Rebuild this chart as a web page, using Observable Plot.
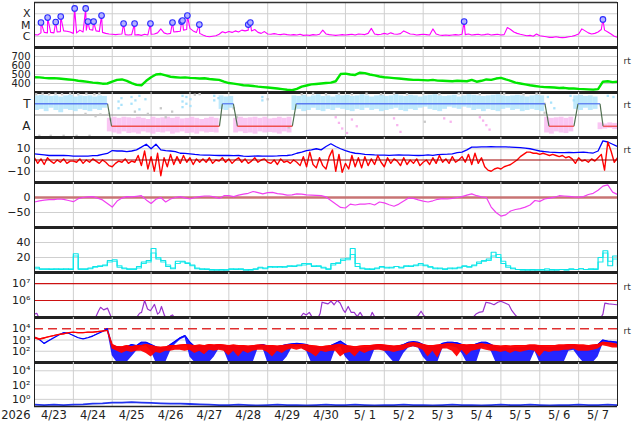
<!DOCTYPE html>
<html><head><meta charset="utf-8">
<script src="https://cdn.jsdelivr.net/npm/d3@7"></script>
<script src="https://cdn.jsdelivr.net/npm/@observablehq/plot@0.6"></script>
<style>
body{margin:0;background:#fff;}
#chart{width:634px;height:424px;overflow:hidden;background:#fff;}
#chart svg{display:block;}
</style></head><body><div id="chart"></div>
<script>
// ---------- DATA ----------
// X-ray background flux, C-class units (1e-6 W/m2), every 2 h from 2026-04-23 00 UT
const xrayBase = [1.4,1.3,2.0,2.2,2.0, 2.2,2.0,2.4,2.6,3.0, 2.8,2.4,1.8,2.0,3.5, 2.4,3.5,4.0,3.5,3.0,
 2.6,2.2,1.8,1.6,1.5, 1.4,1.5,1.6,1.4,1.3, 1.4,1.3,1.4,1.2,1.5, 1.3,1.5,1.6,2.0,4.5,
 2.0,1.6,1.8,2.4,2.6, 2.8,3.5,4.0,5.0,3.0, 2.2,1.8,1.3,1.0,0.9, 1.0,1.1,1.5,2.5,2.0,
 2.6,2.2,3.0,2.4,3.5, 3.0,3.5,3.0,4.0,2.2, 1.8,2.6,1.6,1.5,1.7, 1.5,1.4,1.6,1.4,1.3,
 1.4,1.3,1.5,1.2,1.3, 1.2,1.4,1.3,1.5,3.5, 1.6,1.4,1.3,1.2,1.3, 1.4,1.3,1.4,1.5,1.3,
 1.6,1.5,1.4,1.8,5.0, 1.6,1.4,1.5,1.8,1.5, 2.0,1.6,1.5,1.7,3.0, 2.2,1.6,1.5,1.3,1.4,
 1.5,1.4,1.3,4.5,1.6, 1.3,1.2,1.3,1.2,1.3, 1.4,1.3,1.5,1.4,1.6, 1.3,1.4,1.5,1.3,1.4,
 1.6,1.3,1.4,1.5,1.3, 1.4,6.0,4.0,2.4,1.8, 1.5,1.3,1.1,1.2,1.0, 1.6,1.1,1.0,0.9,0.8,
 0.8,0.9,0.8,0.75,0.8, 0.9,1.0,1.2,1.6,4.5, 3.0,2.0,1.6,1.8,2.4, 4.0,3.5,2.4,1.6,1.0,0.8];
// flare peaks: hour after start, peak flux (C units)
const flareHours = [4,8.1,13.1,16.2,24.8,31.6,33,36.5,41.4,55,61.8,71.6,85.2,90.8,91.4,94.4,101.8,132,133.3,265.3,351];
const flareFlux  = [16.7,46,18.5,57,295,295,20,20,69,13.6,13.6,13.6,16.7,20,25,69,11,11,16.7,20,31];
const xrayTicks = [1e-6,1e-5,1e-4], xrayLabels = ["C","M","X"];

// solar wind speed km/s, every 3 h
const speed = [470,468,462,458,460,455,450,445, 440,430,425,418,410,405,398,400, 420,440,445,430,405,385,380,
 430,470,500,505,490,475,470,465, 468,462,460,455,458,450,445,440, 420,405,398,390,380,378,372,365,
 360,355,350,345,338,330,325,340, 365,378,390,395,400,405,410,425, 505,510,500,495,520,515,500,490,
 478,470,465,460,455,450,445,440, 440,438,435,440,432,430,428,425, 430,428,425,440,420,430,445,440,
 455,462,445,430,410,400,390,380, 372,365,360,358,355,350,352,345, 345,340,338,335,332,338,420,425, 415,420];
const speedTicks = [400,500,600,700];

// IMF sector polarity (T = +1, A = -1): change hours
const polH = [0,45.1,47.6,114.2,116,122.8,125.3,159.2,161.6,315.2,317.7,333.1,335.6,349.2,351.1,360];
const polV = [1,1,-1,-1,1,1,-1,-1,1,1,-1,-1,1,1,-1,-1];
// IMF angle scatter band per 3 h bin (upper / lower)
const bandHi = [1.7,1.75,1.7,1.65,1.7,1.6,1.7,1.75,1.6,1.7,1.65,1.7,1.6,1.7,1.65,
 -0.3,
 -0.2,-0.3,-0.2,-0.25,-0.3,-0.2,-0.3,-0.4,-0.2,-0.3,-0.25,-0.2,-0.3,-0.2,-0.35,-0.3,-0.2,-0.3,-0.4,-0.3,-0.2,-0.3,
 1.7,1.6,1.65,
 -0.3,-0.2,-0.3,-0.25,-0.2,-0.3,-0.2,-0.35,-0.3,-0.2,-0.3,-0.2,
 1.7,1.65,1.75,1.6,1.7,1.8,1.65,1.7,1.6,1.75, 1.7,1.75,1.65,1.7,1.8,1.7,1.6,1.7,1.75,1.65,
 1.7,1.8,1.7,1.65,1.75,1.7,1.6,1.7,1.75,1.8, 1.7,1.65,1.7,1.75,1.6,1.7,1.8,1.75,1.7,1.65,
 1.7,1.75,1.8,1.7,1.65,1.7,1.75,1.7,1.6,1.7, 1.75,1.7,
 -0.2,-0.3,-0.25,-0.2,-0.3,-0.2,
 1.7,1.75,1.65,1.7,1.6,
 -0.7,-0.8,-0.7,-0.75];
const bandLo = [0.4,0.5,0.3,0.6,0.4,0.2,0.5,0.4,0.3,0.5,0.4,0.3,0.5,0.4,0.6,
 -1.5,
 -1.6,-1.7,-1.5,-1.65,-1.6,-1.7,-1.5,-1.6,-1.7,-1.55,-1.6,-1.5,-1.7,-1.6,-1.5,-1.65,-1.6,-1.7,-1.5,-1.6,-1.55,-1.6,
 0.5,0.4,0.6,
 -1.6,-1.5,-1.65,-1.6,-1.7,-1.5,-1.6,-1.55,-1.6,-1.7,-1.5,-1.6,
 0.4,0.5,0.3,0.4,0.6,0.4,0.3,0.5,0.4,0.6, 0.5,0.4,0.3,0.5,0.4,0.6,0.4,0.5,0.3,0.4,
 0.5,0.6,0.4,0.3,0.5,0.4,0.6,0.7,0.5,0.4, 0.3,0.5,0.7,0.6,0.5,0.7,0.6,0.4,0.5,0.3,
 0.5,0.4,0.3,0.5,0.6,0.4,0.5,0.3,0.4,0.5, 0.4,0.3,
 -1.6,-1.7,-1.5,-1.6,-1.65,-1.5,
 0.5,0.4,0.6,0.4,0.5,
 -1.3,-1.25,-1.2,-1.3];
// scattered angle samples: hour, value, kind (t = toward, a = away, g = other)
const dotH = [51.9,51.9,53.7,53.7,59.9,59.9,62.3,64.8,64.8,68.5,91.4,91.4,91.4,93.8,93.8,96.3,96.3,111,111,113.6,140.7,140.7,317,319,321,331,333,354,357.5,
 186,188,190,193,196,199,222,224,226,253,257,275,277,279,281,
 1,5,9,13,17,22,27,32,37,40,31.5,37.7,40.7,3,10,18,26,34,46,47,62,70,78,81,85,99,102,123,125,144,157,
 165,172,180,188,196,205,214,222,230,240,241,250,262,275,290,302,310,315,315,315];
const dotV = [1.2,0.6,1.5,0.9,1.6,1.0,1.3,1.7,0.5,1.4,1.7,1.2,0.7,1.6,1.0,1.4,0.8,1.7,1.3,1.5,1.6,1.3,1.6,1.1,0.6,1.7,1.3,1.7,1.6,
 -0.2,-0.7,-1.2,-1.6,-0.4,-1.0,-0.3,-0.9,-1.5,-0.3,-0.6,-0.2,-0.5,-0.9,-1.3,
 1.85,1.9,1.85,1.9,1.85,1.9,1.85,1.9,1.85,1.9,0.1,-0.1,0.05,-1.85,-1.85,-1.85,-1.85,-1.85,0.1,-0.4,0.3,0.1,0.6,-0.2,0.3,1.8,1.85,0.6,-0.2,1.4,-1.1,
 1.85,1.9,1.85,1.9,1.85,1.9,1.85,1.9,1.85,1.9,-0.6,1.85,1.9,1.85,1.9,1.85,1.9,1.0,0.2,-0.8];
const dotK = [].concat(Array(29).fill("t"), Array(15).fill("a"), Array(50).fill("g"));

// IMF Bt (every 3 h) and Bz (every 2 h), nT
const bt = [5.5,5,4.5,4,4,4.2,4,3.8, 3.5,3.5,3.4,3.5,3.8,4,5,5.8, 8.4,8,8,7.5,8,9,11.4, 14,10,14,9,8.4,8,7.5,6,
 5.8,5.5,5,4.6,4.4,4.4,4.2,4, 4,4,3.8,4,3.5,3.3,3.5,3.6, 3.5,3.4,3.5,3.6,3.8,4,4.5,6, 7,8.4,9,10,9,12,14.4,12,
 10,8.4,7,6,5.6,5,4.8,4.5, 4.4,4.4,4.2,4.4,4.5,4.3,4.4,4.2, 4,4.2,4.5,4.2,4.8,5,5.2,5.5, 6.5,7,9,11.4,11.5,11.7,11.7,11.8,
 11.7,11.6,11.7,11.5,11.3,11,10.5,10, 9,8,7.5,7,6.8,6.5,6.5,6.8, 6.5,6.8,7,6.5,6.2,8,17,16, 14,12];
const bz = [2,-3,1,-4,2,-1,-3,0,-2,1,-3,-1, -1,-2,1,-3,0,-2,1,-1,-3,0,-2, -5,-6,-3,-1,-2,1,-3,-1,-2,
 4,-5,8,-8,3,-10,6,-14,2,-6,5,-4, 3,-3,4,-2,2,-4,1,-2, 1,-2,2,-3,0,-1,2,-2,1,-3,0,2,-2,1,-3,-1,2,-2,0,
 1,-2,-3,0,-4,1,-2,-1,-3,0, -2,-5,3,-6,7,-4,-7,2,-5,-8,3, 9,-10,5,-11,-3,-8,4,-6,2,-7, 3,-5,1,-4,4,-2,-6,2,-3,1,
 -1,-5,2,-4,0,-3,1,-5,-2,0,-4, 2,-3,4,-2,1,-3,3,-2,0, 3,-2,5,-4,6,-3,2,-6, -9,-10,-8,-7,-8,-6,-5,-4,-2,0,3,5,
 7,7,6,6,5,6,5,4,5,4,3,4,2,3, 1,-3,2,-1,0,-2,1,-1,2, 5,-9,16,8,-2,2];
const imfTicks = [10,0,-10];

// Dst nT, every 3 h
const dst = [-15,-11,-9,-7,-7,-5,-6,-10,-14,-4, 0,2,3,-2,-8,-20,-32,-12,-2,3, 2,4,6,-8,-20,-6,0,-15,-5,0,
 3,-1,-5,0,3,5,5,2,-3,6, 6,3,8,11,14,20,16,12,16,17, 13,11,8,9,12,11,9,8,7,6,
 2,-10,-22,-33,-35,-22,-25,-22,-22,-20, -25,-15,-18,-24,-29,-22,-12,-2,-3,-8, -12,-15,-11,-6,-4,-5,-3,0,3,8,
 12,6,2,0,-32,-50,-62,-58,-45,-40, -37,-32,-25,-10,-13,-5,-2,1,6,5, 4,2,1,3,10,14,24,38,42,18, 10];
const dstTicks = [0,-50];

// two cyan index series, every 3 h
const cyanA = [7,5,5,4,5,4,5,4,25,5, 5,6,8,8,10,16,17,7,6,5, 5,8,14,16,32,18,16,8,6,15, 15,12,10,5,5,4,4,3,4,3,
 5,4,5,3,4,5,7,6,8,7, 8,7,9,8,10,12,11,8,9,6, 5,12,13,18,19,32,8,5,5,4, 6,8,6,7,8,7,9,8,10,12,
 9,7,6,5,5,6,5,7,9,7, 10,14,15,18,27,20,12,7,5,4, 4,3,4,3,4,3,4,3,4,4, 5,4,5,4,5,4,20,29,9,22, 8];
const cyanB = [5,4,4,5,4,5,4,5,22,4, 4,5,7,9,9,14,15,9,5,4, 4,6,12,14,26,20,14,10,5,12, 14,13,9,6,4,5,3,4,3,4,
 4,5,4,4,3,4,6,5,7,8, 7,8,8,9,9,10,12,9,8,7, 4,10,12,16,17,24,12,6,4,5, 5,7,7,6,8,6,8,9,9,10,
 10,8,5,6,4,5,6,6,8,8, 9,12,16,16,22,24,15,9,6,4, 3,4,3,4,3,5,3,4,4,3, 4,4,5,4,4,5,14,26,15,18, 10];
const cyanTicks = [20,40];

// proton flux (log10), hour samples, null = gap
const protonH = [0,1.4,2.6,null, 37.7,39.6,40.8,42.7,45.1,47,47.6,null,
 63,64.9,66.1,68,69.8,71.6,74.1,76,77.2,78.4,80.3,81.5,null, 84.1,85.2,86.4,null,
 164.1,166,167.8,169.7,171.6,null,
 175.2,176.4,177.6,179.4,181.3,183.1,185,186.9,188.7,190.6,191.8,193.7,195.6,197.4,199.3,201.1,203,null,
 207.3,208.5,210.3,null, 234.4,236.8,238.7,240.5,242.4,null, 252.2,254.1,255.9,null,
 270.7,272.6,274.4,276.9,278.8,281.2,283.7,286.1,288,290.5,292.9,294.8,297.3,298.5,null,
 349.8,351,352.2,354.6,357.1,359.6];
const protonLog = [5.2,5.25,4.9,null, 4.9,5.4,5.6,5.45,5.55,5.1,4.9,null,
 4.9,5.25,5.3,6.0,5.5,5.4,5.77,5.2,5.3,5.65,5.1,4.9,null, 5.1,5.15,4.9,null,
 4.9,5.25,5.15,5.3,4.9,null,
 4.9,5.25,5.9,5.85,5.8,5.96,5.75,6.0,5.85,5.45,5.3,5.65,5.3,5.3,5.05,5.3,5.0,null,
 4.9,5.3,4.9,null, 4.9,5.1,5.37,5.1,4.9,null, 4.95,5.05,4.9,null,
 4.9,5.2,5.3,5.35,5.9,5.85,5.75,5.9,5.96,5.85,5.75,5.4,5.1,4.9,null,
 4.9,5.2,5.85,5.8,5.78,5.75];
const protonTicks = [1e6,1e7];

// electron fluxes (log10), every 3 h: upper / lower envelope
const eBlueHi = [3.25,3.05,2.7,2.95,3.2,3.45,3.65,3.6,3.4,3.2, 3.1,3.2,3.35,3.55,3.75,4.0,2.4,2.4,2.3,2.4,
 2.6,2.5,2.8,2.8,2.6,2.4,2.2,2.3,2.6,2.9, 3.2,3.4,2.8,2.4,2.4,2.45,2.5,2.5,2.55,2.5,
 2.45,2.4,2.35,2.4,2.35,2.4,2.5,2.6,2.45,2.4, 2.4,2.5,2.6,2.65,2.7,2.65,2.6,2.4,2.3,2.3,
 2.35,2.5,2.7,2.9,2.6,2.3,2.25,2.25,2.3,2.35, 2.5,2.55,2.5,2.45,2.4,2.45,2.6,2.8,2.85,2.8,
 2.6,2.4,2.35,2.45,2.7,2.8,2.8,2.75,2.6,2.45, 2.5,2.65,2.8,2.8,2.6,2.35,2.3,2.3,2.25,2.3,
 2.3,2.35,2.45,2.5,2.4,2.35,2.3,2.35,2.4,2.45, 2.5,2.5,2.45,2.4,2.4,2.45,2.6,3.0,2.9,2.85, 2.8];
const eBlueLo = [3.2,3.0,2.6,2.9,3.15,3.4,3.6,3.55,3.35,3.15, 3.05,3.15,3.3,3.5,3.7,3.9,1.6,0.5,0.5,0.5,
 1.5,2.0,2.4,2.5,2.0,0.5,0.5,0.5,2.0,2.6, 3.0,3.2,1.5,0.5,0.5,0.5,0.5,1.5,2.2,2.1,
 0.5,0.5,0.5,0.5,0.5,0.8,2.2,2.3,0.5,0.5, 0.5,0.5,1.5,2.3,2.4,2.3,2.0,0.5,0.5,0.5,
 0.5,1.0,2.2,2.4,1.5,0.5,0.5,0.5,0.5,0.8, 2.1,2.2,2.0,1.5,0.5,0.5,1.8,2.3,2.4,2.3,
 1.5,0.5,0.5,0.8,2.2,2.4,2.4,2.3,1.8,0.5, 0.5,1.0,2.3,2.4,2.0,0.5,0.5,0.5,0.5,0.5,
 0.5,0.5,1.0,2.0,0.5,0.5,0.5,0.5,0.5,0.8, 2.0,2.1,1.5,0.5,0.5,0.5,1.5,2.6,2.6,2.5, 2.4];
const eRedHi = [3.25,3.1,3.2,3.3,3.4,3.5,3.55,3.65,3.7,3.65, 3.65,3.7,3.7,3.75,3.8,3.85,2.6,2.4,2.4,2.5,
 2.4,2.5,2.5,2.6,2.5,2.4,2.35,2.4,2.5,2.5, 2.55,2.6,2.55,2.5,2.55,2.5,2.6,2.55,2.6,2.55,
 2.5,2.55,2.5,2.5,2.45,2.5,2.55,2.55,2.5,2.5, 2.45,2.5,2.55,2.6,2.55,2.6,2.55,2.5,2.45,2.4,
 2.45,2.5,2.55,2.6,2.5,2.45,2.4,2.45,2.5,2.5, 2.55,2.6,2.55,2.5,2.45,2.5,2.55,2.7,2.75,2.7,
 2.6,2.5,2.5,2.55,2.6,2.65,2.65,2.6,2.6,2.55, 2.6,2.6,2.65,2.6,2.55,2.5,2.45,2.5,2.45,2.5,
 2.5,2.5,2.55,2.55,2.5,2.5,2.5,2.5,2.55,2.55, 2.6,2.6,2.55,2.55,2.5,2.55,2.6,2.8,2.75,2.7, 2.6];
const eRedLo = [3.1,2.95,3.05,3.2,3.3,3.4,3.45,3.55,3.6,3.55, 3.55,3.6,3.6,3.65,3.7,3.75,2.2,2.0,1.8,2.0,
 1.9,2.0,2.0,1.8,1.5,1.9,1.8,2.0,2.0,2.1, 2.1,2.0,2.1,1.8,2.0,1.7,2.1,2.0,2.1,2.0,
 1.6,2.0,1.5,2.0,1.8,2.0,2.1,2.1,1.9,1.5, 2.0,1.8,2.1,2.2,2.1,2.2,2.0,1.8,1.5,2.0,
 1.9,2.0,2.0,1.5,1.8,1.9,1.5,2.0,1.8,2.0, 2.1,2.1,2.0,2.0,1.9,2.0,2.1,2.3,2.4,2.3,
 2.1,1.5,2.0,1.4,2.2,2.2,2.0,1.5,2.1,1.6, 2.0,2.1,2.2,2.1,2.0,2.0,1.9,2.0,1.8,2.0,
 1.9,2.0,2.1,2.0,1.5,2.0,1.9,2.0,2.0,2.1, 2.1,2.2,2.0,2.0,2.0,2.1,2.2,2.5,2.4,2.3, 2.3];
const electronTicks = [1e2,1e3,1e4];

// bottom panel flux (log10), every 6 h
const lowFlux = [-0.75,-0.8,-0.75,-0.8,-0.75,-0.7,-0.6,-0.55,-0.45,-0.45,
 -0.4,-0.45,-0.5,-0.55,-0.6,-0.6,-0.65,-0.7,-0.75,-0.8, -0.8,-0.75,-0.8,-0.85,-0.8,-0.75,-0.8,-0.8,-0.85,-0.8,
 -0.75,-0.8,-0.8,-0.75,-0.8,-0.85,-0.8,-0.8,-0.75,-0.8, -0.8,-0.85,-0.8,-0.75,-0.8,-0.8,-0.85,-0.8,-0.75,-0.8,
 -0.8,-0.75,-0.8,-0.85,-0.8,-0.8,-0.75,-0.8,-0.8,-0.75, -0.8];
const lowTicks = [1,1e2,1e4];

// ---------- BUILD ----------
const t0 = Date.UTC(2026,3,23), t1 = Date.UTC(2026,4,8);
const HR = 3600e3;
const at = h => new Date(t0 + h*HR);
const uniform = (vals, step, f = v => v) => vals.map((v,i) => ({t: at(i*step), v: f(v)}));
const days = d3.utcDays(new Date(t0), new Date(t1));
const dayLines = days.slice(1);
const dayNoons = days.map(d => new Date(+d + 12*HR));
const SUP = "⁰¹²³⁴⁵⁶⁷⁸⁹";
const pow10 = d => "10" + String(Math.round(Math.log10(d))).split("").map(c => SUP[+c]).join("");
const num = d => d < 0 ? "\u2212" + (-d) : String(d);
const FONT = "'DejaVu Sans', Verdana, sans-serif";

function panel(height, y, marks, marginTop = 0) {
  return Plot.plot({
    width: 634, height, marginLeft: 34, marginRight: 17, marginTop, marginBottom: 0,
    x: {type: "utc", domain: [new Date(t0), new Date(t1)], axis: null},
    y: {...y, clamp: true},
    style: {background: "none", overflow: "visible", fontFamily: FONT, fontSize: "11px", color: "#222", display: "block"},
    marks: [
      Plot.ruleX(dayLines, {stroke: "#cfcfcf", strokeWidth: 1}),
      ...marks,
      Plot.ruleX([new Date(t0), new Date(t1)], {stroke: "#222", strokeWidth: 1})
    ]
  });
}
const yAxis = (ticks, fmt, fontSize = 11) => Plot.axisY({ticks, tickFormat: fmt, tickSize: 0, tickPadding: 4, label: null, fontSize});
const sep = v => Plot.ruleY([v], {stroke: "#222", strokeWidth: 3});
const grid = ticks => Plot.ruleY(ticks, {stroke: "#cfcfcf", strokeWidth: 1});
const rt = dy => Plot.text(["rt"], {text: d => d, frameAnchor: "top-right", dx: 6, dy, textAnchor: "start", fontSize: 9, fill: "#333"});

const chart = document.getElementById("chart");

// 1. X-ray
const flares = flareHours.map((h,i) => ({t: at(h), v: flareFlux[i]*1e-6}));
const xray = uniform(xrayBase, 2, v => v*1e-6).concat(flares).sort((a,b) => a.t - b.t);
chart.append(panel(47, {type: "log", domain: [1e-7, 1e-3]}, [
  grid(xrayTicks),
  Plot.line(xray, {x: "t", y: "v", stroke: "#ff00ff", strokeWidth: 1.1, clip: true}),
  Plot.dot(flares, {x: "t", y: "v", r: 2.8, stroke: "#2a2aff", fill: "#b4b4ff", strokeWidth: 1.1}),
  Plot.ruleY([1e-3], {stroke: "#333", strokeWidth: 1.5}),
  sep(1e-7),
  yAxis(xrayTicks, d => xrayLabels[xrayTicks.findIndex(t => Math.abs(t - d) < t*1e-6)], 11)
], 2));

// 2. Solar wind speed
chart.append(panel(45, {domain: [300, 800]}, [
  grid(speedTicks),
  Plot.line(uniform(speed, 3), {x: "t", y: "v", stroke: "#00e600", strokeWidth: 2.4, clip: true}),
  sep(300), rt(10),
  yAxis(speedTicks, num, 10)
]));

// 3. IMF sector
const bins = bandHi.map((hi,i) => ({t1: at(3*i), t2: at(3*i+3), hi, lo: bandLo[i]}));
const dots = dotH.map((h,i) => ({t: at(h), v: dotV[i], k: dotK[i]}));
const segs = polH.slice(1).map((h,i) => ({t1: at(polH[i]), t2: at(h), v1: polV[i], v2: polV[i+1]}));
const dotColor = {t: "#a9e2fb", a: "#f8b4ee", g: "#c8c8c8"};
chart.append(panel(45, {domain: [-2, 2]}, [
  Plot.ruleY([0], {stroke: "#8a8a8a", strokeWidth: 1}),
  Plot.rect(bins.filter(b => b.hi > 0), {x1: "t1", x2: "t2", y1: "lo", y2: "hi", fill: "#aee3fb", fillOpacity: 0.8}),
  Plot.rect(bins.filter(b => b.hi < 0), {x1: "t1", x2: "t2", y1: "lo", y2: "hi", fill: "#f9b8f0", fillOpacity: 0.8}),
  ...["g","t","a"].map(k => Plot.dot(dots.filter(d => d.k === k), {x: "t", y: "v", symbol: "square", r: 1.3, fill: dotColor[k], stroke: "none"})),
  Plot.link(segs.filter(s => s.v1 !== s.v2), {x1: "t1", x2: "t2", y1: "v1", y2: "v2", stroke: "#4e6e4e", strokeWidth: 1.2}),
  Plot.link(segs.filter(s => s.v1 === 1 && s.v2 === 1), {x1: "t1", x2: "t2", y1: "v1", y2: "v2", stroke: "#5a7cf0", strokeWidth: 1.3}),
  Plot.link(segs.filter(s => s.v1 === -1 && s.v2 === -1), {x1: "t1", x2: "t2", y1: "v1", y2: "v2", stroke: "#ef5050", strokeWidth: 1.3}),
  sep(-2), rt(9),
  yAxis([1, -1], d => d > 0 ? "T" : "A", 12)
]));

// 4. IMF Bt / Bz
chart.append(panel(45, {domain: [-20, 20]}, [
  grid([10, -10]),
  Plot.line(uniform(bt, 3), {x: "t", y: "v", stroke: "#0000ff", strokeWidth: 1.3, clip: true}),
  Plot.line(uniform(bz, 2), {x: "t", y: "v", stroke: "#ff0000", strokeWidth: 1.4, clip: true}),
  Plot.ruleY([0], {stroke: "#a00000", strokeWidth: 1}),
  sep(-20), rt(9),
  yAxis(imfTicks, num)
]));

// 5. Dst
chart.append(panel(45, {domain: [-100, 50]}, [
  grid([-50]),
  Plot.ruleY([0], {stroke: "#c87474", strokeWidth: 2.5}),
  Plot.line(uniform(dst, 3), {x: "t", y: "v", stroke: "#f040f0", strokeWidth: 1.2, clip: true}),
  sep(-100),
  yAxis(dstTicks, num)
]));

// 6. cyan indices
chart.append(panel(45, {domain: [0, 60]}, [
  grid(cyanTicks),
  Plot.line(uniform(cyanB, 3), {x: "t", y: "v", stroke: "#22eeee", strokeWidth: 1.2, curve: "step-after", clip: true}),
  Plot.line(uniform(cyanA, 3), {x: "t", y: "v", stroke: "#11e4e8", strokeWidth: 1.2, curve: "step-after", clip: true}),
  sep(0),
  yAxis(cyanTicks, num)
]));

// 7. proton flux
const proton = protonH.map((h,i) => ({t: h == null ? null : at(h), v: protonLog[i] == null ? NaN : 10 ** protonLog[i]}));
chart.append(panel(45, {type: "log", domain: [1e5, 10 ** 7.65]}, [
  Plot.ruleY(protonTicks, {stroke: "#cc1111", strokeWidth: 1.2}),
  Plot.line(proton, {x: "t", y: "v", stroke: "#9933cc", strokeWidth: 1.2, clip: true}),
  sep(1e5), rt(11),
  yAxis(protonTicks, pow10)
]));

// 8. electron flux
const elec = eBlueHi.map((v,i) => ({t: at(3*i), bh: 10 ** v, bl: 10 ** eBlueLo[i], rh: 10 ** eRedHi[i], rl: 10 ** eRedLo[i]}));
chart.append(panel(45, {type: "log", domain: [10, 1e5]}, [
  grid([1e2, 1e3]),
  Plot.ruleY([1e4], {stroke: "#e03030", strokeWidth: 1.5, strokeDasharray: "9,5"}),
  Plot.areaY(elec, {x: "t", y1: "bl", y2: "bh", fill: "#0000ff", fillOpacity: 0.85, clip: true}),
  Plot.line(elec, {x: "t", y: "bh", stroke: "#0000ff", strokeWidth: 1.2, clip: true}),
  Plot.areaY(elec, {x: "t", y1: "rl", y2: "rh", fill: "#ff0000", fillOpacity: 0.95, clip: true}),
  Plot.line(elec, {x: "t", y: "rh", stroke: "#ff0000", strokeWidth: 1.2, clip: true}),
  sep(10), rt(10),
  yAxis(electronTicks, pow10)
]));

// 9. bottom flux
chart.append(panel(44, {type: "log", domain: [0.1, 10 ** 5.16]}, [
  grid(lowTicks),
  Plot.line(uniform(lowFlux, 6, v => 10 ** v), {x: "t", y: "v", stroke: "#2233ee", strokeWidth: 1.8, clip: true}),
  Plot.ruleY([0.1], {stroke: "#222", strokeWidth: 1.5}),
  yAxis(lowTicks, pow10)
]));

// date axis
const fmtDay = d => { const m = d.getUTCMonth() + 1, dd = d.getUTCDate(); return m + "/" + (dd < 10 ? " " + dd : dd); };
chart.append(Plot.plot({
  width: 634, height: 18, marginLeft: 34, marginRight: 17, marginTop: 0, marginBottom: 0,
  x: {type: "utc", domain: [new Date(t0), new Date(t1)], axis: null},
  style: {background: "none", overflow: "visible", fontFamily: FONT, fontSize: "11.5px", color: "#222", display: "block"},
  marks: [
    Plot.text(dayNoons, {x: d => d, text: fmtDay, frameAnchor: "middle", fill: "#222"}),
    Plot.text(["2026"], {text: d => d, frameAnchor: "left", textAnchor: "end", dx: -4, fill: "#222"})
  ]
}));
</script></body></html>
